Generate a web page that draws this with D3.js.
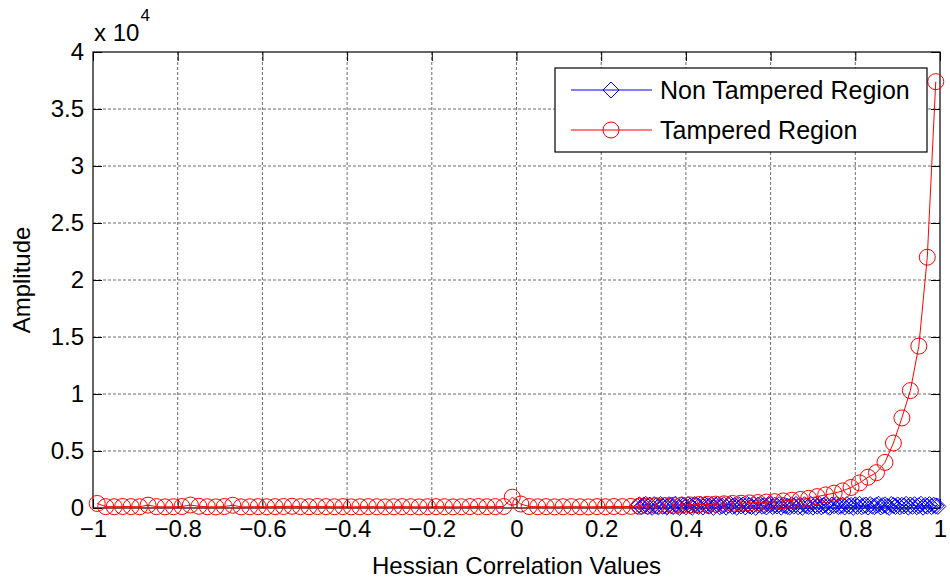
<!DOCTYPE html>
<html>
<head>
<meta charset="utf-8">
<script src="https://cdn.jsdelivr.net/npm/d3@7"></script>
<style>
  body { margin: 0; background: #fff; }
  text { font-family: "Liberation Sans", Arial, sans-serif; fill: #000; }
</style>
</head>
<body>
<svg id="chart"></svg>
<script>
// Histogram bin centres and counts
const redX = d3.range(100).map(i => +(-0.99 + 0.02 * i).toFixed(2));
const redY = [
  400, 120, 110, 130, 120, 110, 250, 120, 100, 110,
  130, 260, 150, 110, 100, 130, 240, 100, 110, 120,
  110, 120, 130, 150, 120, 110, 130, 120, 110, 120,
  100, 110, 120, 110, 100, 110, 120, 110, 100, 110,
  120, 110, 100, 110, 120, 130, 110, 120, 130, 950,
  350, 130, 110, 120, 100, 110, 120, 110, 100, 120,
  110, 130, 120, 140, 160, 180, 200, 210, 230, 250,
  270, 300, 320, 340, 370, 400, 420, 450, 480, 520,
  560, 620, 680, 750, 850, 1000, 1150, 1300, 1500, 1800,
  2200, 2700, 3100, 4000, 5700, 7900, 10300, 14200, 22000, 37400
];

const blueX = d3.range(143).map(i => +(0.285 + 0.005 * i).toFixed(3));
const blueY = [
  150, 280, 100, 240, 320, 120, 260, 60, 300, 200,
  90, 310, 150, 240, 80, 290, 210, 120, 330, 170,
  60, 280, 230, 110, 310, 180, 70, 300, 240, 130,
  320, 90, 260, 200, 150, 300, 60, 250, 320, 110,
  190, 290, 80, 250, 330, 140, 220, 70, 300, 180,
  270, 100, 320, 200, 130, 280, 60, 250, 310, 150,
  210, 90, 290, 330, 120, 240, 180, 300, 80, 260,
  200, 150, 90, 280, 170, 310, 110, 230, 60, 290,
  190, 130, 320, 80, 250, 160, 300, 100, 220, 330,
  140, 70, 270, 200, 310, 120, 180, 250, 90, 300,
  160, 230, 60, 280, 140, 320, 100, 210, 260, 80,
  300, 170, 120, 250, 330, 90, 200, 280, 150, 60,
  310, 220, 130, 270, 100, 240, 180, 320, 80, 260,
  150, 290, 110, 200, 330, 70, 230, 160, 300, 120,
  250, 190, 140
];

const xTicks = [-1, -0.8, -0.6, -0.4, -0.2, 0, 0.2, 0.4, 0.6, 0.8, 1];
const yTicks = [0, 5000, 10000, 15000, 20000, 25000, 30000, 35000, 40000];

const width = 950, height = 583;
const margin = {left: 93, right: 10, top: 52, bottom: 75};
const innerW = width - margin.left - margin.right;
const innerH = height - margin.top - margin.bottom;

const svg = d3.select("#chart")
    .attr("width", width)
    .attr("height", height);

const g = svg.append("g")
    .attr("transform", `translate(${margin.left},${margin.top})`);

const x = d3.scaleLinear().domain([-1, 1]).range([0, innerW]);
const y = d3.scaleLinear().domain([0, 40000]).range([innerH, 0]);

// grid
g.append("g").selectAll("line")
    .data(xTicks.slice(1, -1))
    .enter().append("line")
    .attr("x1", d => x(d)).attr("x2", d => x(d))
    .attr("y1", 0).attr("y2", innerH)
    .attr("stroke", "#444").attr("stroke-width", 0.8)
    .attr("stroke-dasharray", "3,2");
g.append("g").selectAll("line")
    .data(yTicks.slice(1, -1))
    .enter().append("line")
    .attr("y1", d => y(d)).attr("y2", d => y(d))
    .attr("x1", 0).attr("x2", innerW)
    .attr("stroke", "#444").attr("stroke-width", 0.8)
    .attr("stroke-dasharray", "3,2");

// axes with inward ticks (MATLAB style)
const fmtX = d => d3.format("~g")(d);
const xAxis = g.append("g")
    .attr("transform", `translate(0,${innerH})`)
    .call(d3.axisBottom(x).tickValues(xTicks).tickFormat(fmtX).tickSizeInner(-9).tickSizeOuter(0).tickPadding(12));
const xTop = g.append("g")
    .call(d3.axisTop(x).tickValues(xTicks).tickFormat("").tickSizeInner(-9).tickSizeOuter(0));
const yAxis = g.append("g")
    .call(d3.axisLeft(y).tickValues(yTicks).tickFormat(d => d3.format("~g")(d / 10000)).tickSizeInner(-9).tickSizeOuter(0).tickPadding(9));
const yRight = g.append("g")
    .attr("transform", `translate(${innerW},0)`)
    .call(d3.axisRight(y).tickValues(yTicks).tickFormat("").tickSizeInner(-9).tickSizeOuter(0));

[xAxis, xTop, yAxis, yRight].forEach(a => {
  a.select(".domain").remove();
  a.selectAll("line").attr("stroke", "#000");
  a.selectAll("text").style("font-size", "24px").attr("fill", "#000");
});

// box
g.append("rect")
    .attr("width", innerW).attr("height", innerH)
    .attr("fill", "none").attr("stroke", "#000").attr("stroke-width", 1.2);

// blue series
const blue = blueX.map((d, i) => [d, blueY[i]]);
const red = redX.map((d, i) => [d, redY[i]]);
const line = d3.line().x(d => x(d[0])).y(d => y(d[1]));
const diamond = s => `M0,${-s}L${s},0L0,${s}L${-s},0Z`;

g.append("path").datum(blue).attr("d", line)
    .attr("fill", "none").attr("stroke", "#0000ff").attr("stroke-width", 1);
g.append("g").selectAll("path")
    .data(blue).enter().append("path")
    .attr("d", diamond(8))
    .attr("transform", d => `translate(${x(d[0])},${y(d[1])})`)
    .attr("fill", "none").attr("stroke", "#0000ff").attr("stroke-width", 1);

// red series
g.append("path").datum(red).attr("d", line)
    .attr("fill", "none").attr("stroke", "#ff0000").attr("stroke-width", 1);
g.append("g").selectAll("circle")
    .data(red).enter().append("circle")
    .attr("cx", d => x(d[0])).attr("cy", d => y(d[1]))
    .attr("r", 8)
    .attr("fill", "none").attr("stroke", "#ff0000").attr("stroke-width", 1);

// exponent label
const ex = svg.append("text").attr("x", 94).attr("y", 41).style("font-size", "24px");
ex.append("tspan").text("x 10");
ex.append("tspan").attr("dy", -20).attr("dx", 1).style("font-size", "17px").text("4");

// axis labels
svg.append("text")
    .attr("x", margin.left + innerW / 2).attr("y", 574)
    .attr("text-anchor", "middle").style("font-size", "24px")
    .text("Hessian Correlation Values");
svg.append("text")
    .attr("transform", `translate(30,${margin.top + innerH / 2}) rotate(-90)`)
    .attr("text-anchor", "middle").style("font-size", "24px")
    .text("Amplitude");

// legend
const lg = svg.append("g").attr("transform", "translate(555,68)");
lg.append("rect").attr("width", 372).attr("height", 84)
    .attr("fill", "#fff").attr("stroke", "#000").attr("stroke-width", 1.2);
const entries = [
  {name: "Non Tampered Region", color: "#0000ff", shape: "diamond"},
  {name: "Tampered Region", color: "#ff0000", shape: "circle"}
];
entries.forEach((e, i) => {
  const row = lg.append("g").attr("transform", `translate(0,${22 + i * 40})`);
  row.append("line").attr("x1", 16).attr("x2", 97)
      .attr("stroke", e.color).attr("stroke-width", 1);
  if (e.shape === "diamond") {
    row.append("path").attr("d", diamond(8)).attr("transform", "translate(56,0)")
        .attr("fill", "none").attr("stroke", e.color);
  } else {
    row.append("circle").attr("cx", 56).attr("r", 8)
        .attr("fill", "none").attr("stroke", e.color);
  }
  row.append("text").attr("x", 105).attr("y", 9)
      .style("font-size", "25px").text(e.name);
});
</script>
</body>
</html>
